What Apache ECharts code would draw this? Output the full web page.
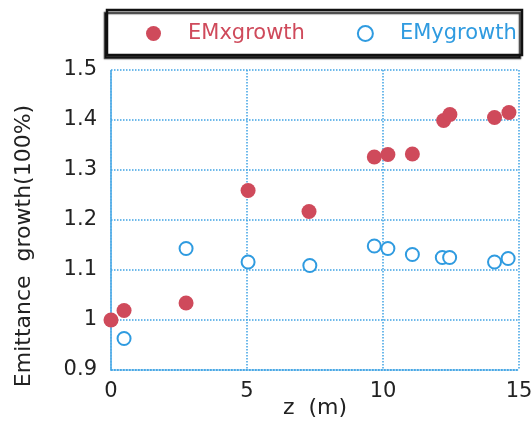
<!DOCTYPE html>
<html>
<head>
<meta charset="utf-8">
<script src="https://cdn.jsdelivr.net/npm/echarts@6/dist/echarts.min.js"></script>
<style>
  html, body { margin: 0; padding: 0; background: #fff; }
  #chart { width: 532px; height: 425px; }
</style>
</head>
<body>
<div id="chart"></div>
<script>
// Position along the beam line (m) and emittance growth ratios
const zX = [0, 0.48, 2.76, 5.04, 7.28, 9.68, 10.18, 11.08, 12.23, 12.46, 14.1, 14.63];
const emxGrowth = [1.0, 1.019, 1.034, 1.259, 1.217, 1.326, 1.331, 1.332, 1.399, 1.411, 1.405, 1.415];
const zY = [0.48, 2.76, 5.04, 7.31, 9.68, 10.18, 11.08, 12.18, 12.45, 14.1, 14.6];
const emyGrowth = [0.963, 1.143, 1.116, 1.109, 1.148, 1.143, 1.131, 1.125, 1.125, 1.116, 1.123];
const seriesNames = ['EMxgrowth', 'EMygrowth'];

const red = '#cf4a5b';
const blue = '#2f9be0';
const gridColor = '#3fa3e3';
const font = 'DejaVu Sans';

const chart = echarts.init(document.getElementById('chart'), null, { renderer: 'canvas' });

const pairs = (xs, ys) => xs.map((x, i) => [x, ys[i]]);

chart.setOption({
  backgroundColor: '#fff',
  animation: false,
  graphic: [{
    type: 'rect',
    shape: { x: 107, y: 10, width: 415, height: 45 },
    style: {
      fill: '#fff', stroke: '#111', lineWidth: 2.5,
      shadowColor: 'rgba(0,0,0,0.75)', shadowOffsetX: -2, shadowOffsetY: 3, shadowBlur: 1
    },
    z: 0
  }],
  legend: {
    data: [
      { name: seriesNames[0], textStyle: { color: red } },
      { name: seriesNames[1], textStyle: { color: blue } }
    ],
    left: 141, top: 18,
    itemGap: 52,
    itemWidth: 15, itemHeight: 15,
    textStyle: { fontFamily: font, fontSize: 21, padding: [0, 0, 0, 22] },
    z: 10
  },
  grid: { left: 111, right: 13, top: 70, bottom: 55, outerBoundsMode: 'none' },
  xAxis: {
    type: 'value', min: 0, max: 15, interval: 5,
    name: 'z  (m)', nameLocation: 'middle', nameGap: 38, nameMoveOverlap: false,
    nameTextStyle: { fontFamily: font, fontSize: 22, color: '#222', verticalAlign: 'middle' },
    axisLine: { show: true, lineStyle: { color: gridColor, type: 'dotted', width: 1.5 } },
    axisTick: { show: false },
    axisLabel: { fontFamily: font, fontSize: 21, color: '#222', margin: 11 },
    splitLine: { show: true, lineStyle: { color: gridColor, type: 'dotted', width: 1.5 } }
  },
  yAxis: {
    type: 'value', min: 0.9, max: 1.5, interval: 0.1,
    name: 'Emittance  growth(100%)', nameLocation: 'middle', nameGap: 76,
    nameRotate: 90,
    nameTextStyle: { fontFamily: font, fontSize: 22, color: '#222', padding: [0, 52, 0, 0] },
    axisLine: { show: true, lineStyle: { color: gridColor, type: 'dotted', width: 1.5 } },
    axisTick: { show: false },
    axisLabel: {
      fontFamily: font, fontSize: 21, color: '#222', margin: 14,
      formatter: v => String(Math.round(v * 10) / 10)
    },
    splitLine: { show: true, lineStyle: { color: gridColor, type: 'dotted', width: 1.5 } }
  },
  series: [{
    name: seriesNames[0],
    type: 'scatter',
    symbol: 'circle',
    symbolSize: 15,
    itemStyle: { color: red, opacity: 1 },
    data: pairs(zX, emxGrowth),
    z: 3
  }, {
    name: seriesNames[1],
    type: 'scatter',
    symbol: 'emptyCircle',
    symbolSize: 13,
    itemStyle: { color: blue, borderColor: blue, borderWidth: 1.2, opacity: 1 },
    data: pairs(zY, emyGrowth),
    z: 2
  }],
  textStyle: { fontFamily: font }
});
</script>
</body>
</html>
